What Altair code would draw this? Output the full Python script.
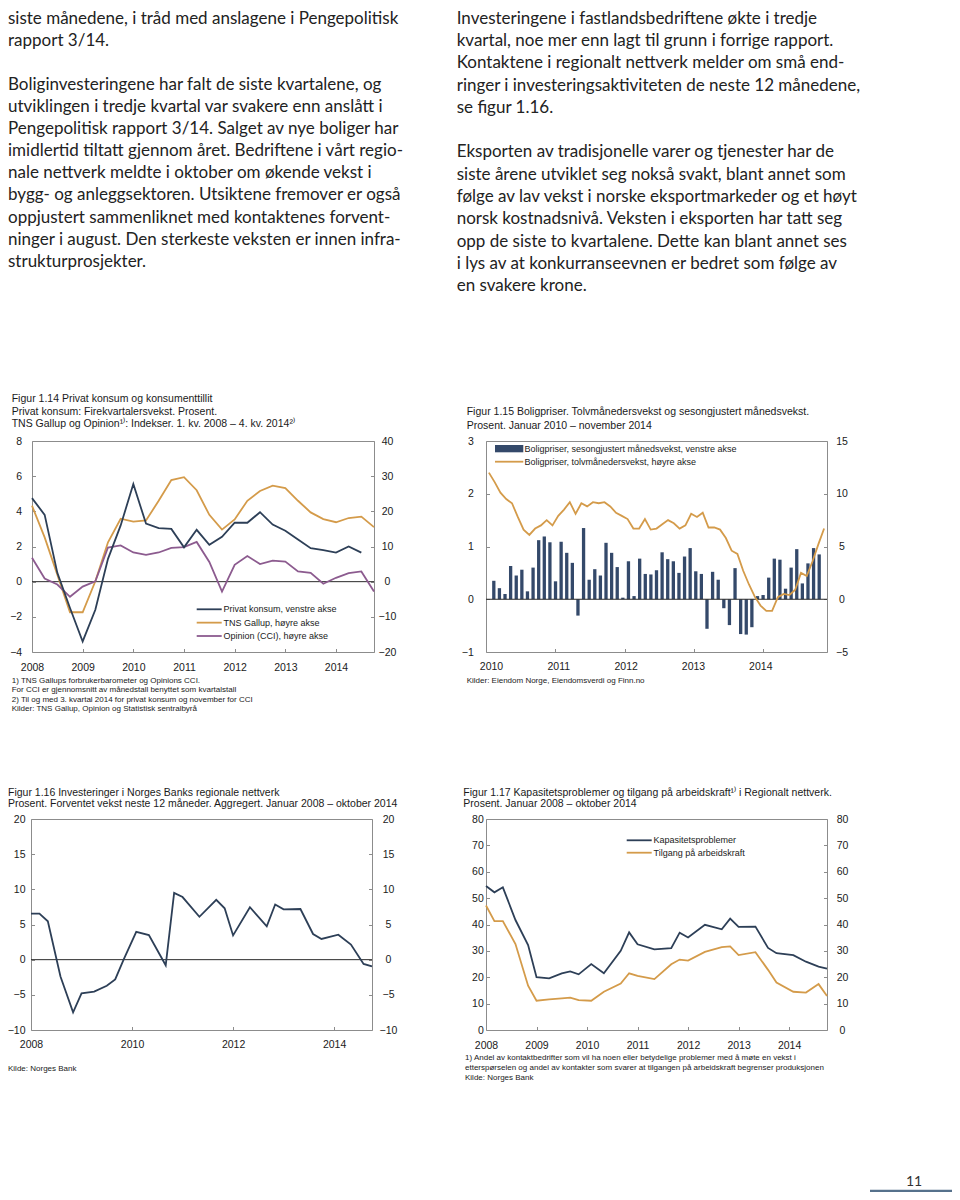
import altair as alt
import pandas as pd

# ======================= DATA =======================
left_text = [
    "siste månedene, i tråd med anslagene i Pengepolitisk",
    "rapport 3/14.",
    "",
    "Boliginvesteringene har falt de siste kvartalene, og",
    "utviklingen i tredje kvartal var svakere enn anslått i",
    "Pengepolitisk rapport 3/14. Salget av nye boliger har",
    "imidlertid tiltatt gjennom året. Bedriftene i vårt regio-",
    "nale nettverk meldte i oktober om økende vekst i",
    "bygg- og anleggsektoren. Utsiktene fremover er også",
    "oppjustert sammenliknet med kontaktenes forvent-",
    "ninger i august. Den sterkeste veksten er innen infra-",
    "strukturprosjekter.",
]
right_text = [
    "Investeringene i fastlandsbedriftene økte i tredje",
    "kvartal, noe mer enn lagt til grunn i forrige rapport.",
    "Kontaktene i regionalt nettverk melder om små end-",
    "ringer i investeringsaktiviteten de neste 12 månedene,",
    "se figur 1.16.",
    "",
    "Eksporten av tradisjonelle varer og tjenester har de",
    "siste årene utviklet seg nokså svakt, blant annet som",
    "følge av lav vekst i norske eksportmarkeder og et høyt",
    "norsk kostnadsnivå. Veksten i eksporten har tatt seg",
    "opp de siste to kvartalene. Dette kan blant annet ses",
    "i lys av at konkurranseevnen er bedret som følge av",
    "en svakere krone.",
]

# Figur 1.14
f114_title = [
    "Figur 1.14 Privat konsum og konsumenttillit",
    "Privat konsum: Firekvartalersvekst. Prosent.",
    "TNS Gallup og Opinion¹⁾: Indekser. 1. kv. 2008 – 4. kv. 2014²⁾",
]
f114_notes = [
    "1) TNS Gallups forbrukerbarometer og Opinions CCI.",
    "For CCI er gjennomsnitt av månedstall benyttet som kvartalstall",
    "2) Til og med 3. kvartal 2014 for privat konsum og november for CCI",
    "Kilder: TNS Gallup, Opinion og Statistisk sentralbyrå",
]
f114_series = ["Privat konsum, venstre akse", "TNS Gallup, høyre akse", "Opinion (CCI), høyre akse"]
f114_quarters = [(y, q) for y in range(2008, 2015) for q in range(1, 5)]
f114_privat = [4.75, 3.8, 0.5, -1.5, -3.4, -1.6, 1.3, 3.2, 5.55, 3.3, 3.05, 3.0, 1.95, 2.95,
               2.1, 2.55, 3.35, 3.35, 3.95, 3.25, 2.9, 2.4, 1.9, 1.8, 1.65, 2.0, 1.65]
f114_tns = [21.6, 12.6, 2.0, -8.7, -8.7, 0.1, 11.2, 17.9, 17.1, 17.4, 23.0, 28.9, 29.7, 26.0,
            19.0, 14.8, 17.7, 23.0, 25.8, 27.3, 26.6, 23.0, 19.7, 17.8, 16.9, 18.1, 18.5, 15.5]
f114_cci = [6.8, 0.9, -0.8, -4.3, -1.4, 0.1, 9.7, 10.3, 8.3, 7.6, 8.3, 9.6, 9.8, 11.3,
            5.6, -2.8, 4.8, 7.3, 5.0, 6.0, 5.7, 2.9, 2.5, -0.6, 1.1, 2.4, 2.9, -2.8]
f114_left_ticks = [-4, -2, 0, 2, 4, 6, 8]
f114_right_ticks = [-20, -10, 0, 10, 20, 30, 40]
f114_years = [2008, 2009, 2010, 2011, 2012, 2013, 2014]

# Figur 1.15
f115_title = [
    "Figur 1.15 Boligpriser. Tolvmånedersvekst og sesongjustert månedsvekst.",
    "Prosent. Januar 2010 – november 2014",
]
f115_series = ["Boligpriser, sesongjustert månedsvekst, venstre akse",
               "Boligpriser, tolvmånedersvekst, høyre akse"]
f115_source = ["Kilder: Eiendom Norge, Eiendomsverdi og Finn.no"]
f115_months = [(y, m) for y in range(2010, 2015) for m in range(1, 13)][:59]
f115_monthly = [0.35, 0.21, 0.10, 0.63, 0.45, 0.56, 0.15, 0.60, 1.12, 1.19,
                1.08, 0.34, 1.09, 0.88, 0.69, -0.31, 1.35, 0.37, 0.57, 0.45,
                1.07, 0.88, 0.61, 0.03, 0.72, 0.06, 0.77, 0.48, 0.47, 0.55,
                0.89, 0.76, 0.72, 0.50, 0.81, 0.97, 0.53, 0.48, -0.56, 0.52,
                0.37, -0.17, -0.49, 0.59, -0.66, -0.67, -0.53, 0.06, 0.08, 0.41,
                0.77, 0.75, 0.20, 0.60, 0.95, 0.30, 0.68, 0.97, 0.85]
f115_twelve = [12.0, 11.1, 10.1, 9.5, 9.1, 7.8, 6.6, 6.1, 6.7, 7.0,
               7.5, 7.0, 7.9, 8.5, 9.2, 8.1, 9.1, 8.8, 9.2, 9.1,
               9.2, 8.8, 8.2, 7.9, 7.6, 6.7, 6.7, 7.6, 6.6, 6.7,
               7.1, 7.5, 7.2, 6.7, 7.0, 8.1, 7.8, 8.2, 6.8, 6.8,
               6.6, 5.8, 4.6, 4.3, 2.7, 1.4, 0.25, -0.6, -1.1, -1.1,
               0.2, 0.5, 0.4, 0.9, 2.5, 2.2, 3.6, 5.2, 6.7]
f115_left_ticks = [-1, 0, 1, 2, 3]
f115_right_ticks = [-5, 0, 5, 10, 15]
f115_years = [2010, 2011, 2012, 2013, 2014]

# Regional network survey rounds (Figur 1.16 and 1.17)
rounds = ["2008-01", "2008-03", "2008-05", "2008-08", "2008-11", "2009-01", "2009-04",
          "2009-07", "2009-09", "2009-11", "2010-02", "2010-05", "2010-09", "2010-11",
          "2011-01", "2011-05", "2011-09", "2011-11", "2012-01", "2012-05", "2012-09",
          "2012-11", "2013-01", "2013-05", "2013-08", "2013-10", "2014-02", "2014-05",
          "2014-08", "2014-10"]

# Figur 1.16
f116_title = [
    "Figur 1.16 Investeringer i Norges Banks regionale nettverk",
    "Prosent. Forventet vekst neste 12 måneder. Aggregert. Januar 2008 – oktober 2014",
]
f116_source = ["Kilde: Norges Bank"]
f116_invest = [6.55, 6.55, 5.45, -2.4, -7.5, -4.8, -4.55, -3.7, -2.8, 0.0,
               3.95, 3.5, -0.8, 9.5, 8.9, 6.1, 8.5, 7.3, 3.45, 7.45,
               4.75, 7.85, 7.15, 7.2, 3.65, 2.95, 3.55, 2.15, -0.6, -0.95]
f116_ticks = [-10, -5, 0, 5, 10, 15, 20]
f116_years = [2008, 2010, 2012, 2014]

# Figur 1.17
f117_title = [
    "Figur 1.17 Kapasitetsproblemer og tilgang på arbeidskraft¹⁾ i Regionalt nettverk.",
    "Prosent. Januar 2008 – oktober 2014",
]
f117_notes = [
    "1) Andel av kontaktbedrifter som vil ha noen eller betydelige problemer med å møte en vekst i",
    "etterspørselen og andel av kontakter som svarer at tilgangen på arbeidskraft begrenser produksjonen",
    "Kilde: Norges Bank",
]
f117_series = ["Kapasitetsproblemer", "Tilgang på arbeidskraft"]
f117_kapasitet = [54.6, 52.2, 54.1, 41.7, 32.2, 20.0, 19.6, 21.5, 22.2, 21.1,
                  25.0, 21.5, 30.0, 37.0, 32.5, 30.6, 31.0, 36.9, 35.1, 39.9,
                  38.2, 42.2, 39.1, 39.2, 31.1, 29.1, 28.4, 25.9, 24.0, 23.3]
f117_tilgang = [47.2, 41.3, 41.3, 32.6, 16.8, 11.1, 11.6, 12.0, 12.3, 11.3,
                11.1, 14.5, 17.6, 21.5, 20.5, 19.3, 24.9, 26.7, 26.3, 29.6,
                31.4, 31.7, 28.4, 29.5, 22.8, 18.0, 14.5, 14.2, 17.4, 12.9]
f117_ticks = [0, 10, 20, 30, 40, 50, 60, 70, 80]
f117_years = [2008, 2009, 2010, 2011, 2012, 2013, 2014]

page_number = ["11"]

# ======================= STYLE / LAYOUT =======================
W, H = 944, 1184
OFF = 8
CF = "Liberation Sans"
PF = "Lato"
TXT = "#1a1a1a"
FRAME = "#8c8c8c"
ZERO = "#2a2a2a"
NAVY = "#2d3f57"
BARC = "#34496a"
ORANGE = "#d49b4a"
PURPLE = "#8c5b8f"
LW = 1.8


def v(p):
    return p - OFF


def xs(dom, L, R):
    return alt.Scale(domain=dom, range=[v(L), v(R)], nice=False, zero=False)


def ys(dom, B, T):
    return alt.Scale(domain=dom, range=[v(B), v(T)], nice=False, zero=False)


def _off(orient, pos):
    p = v(pos)
    return {"bottom": p - H, "top": -p, "left": -p, "right": p - W}[orient]


def ax_lab(orient, pos, values, pad, align=None):
    kw = dict(orient=orient, offset=_off(orient, pos), values=values, format="d", title=None,
              grid=False, ticks=False, tickSize=0, domain=True, domainColor=FRAME, domainWidth=1,
              labels=True, labelFont=CF, labelFontSize=10.5, labelColor=TXT, labelPadding=pad,
              labelFlush=False, labelOverlap=False)
    if align:
        kw["labelAlign"] = align
    return alt.Axis(**kw)


def ax_dom(orient, pos):
    return alt.Axis(orient=orient, offset=_off(orient, pos), title=None, grid=False,
                    ticks=False, labels=False, domain=True, domainColor=FRAME, domainWidth=1)


def ax_tick(orient, pos, values):
    return alt.Axis(orient=orient, offset=_off(orient, pos), values=values, title=None,
                    grid=False, ticks=True, tickSize=3.5, tickColor=FRAME, tickWidth=1,
                    labels=False, domain=False)


def zero_df(a, b, y=0):
    return pd.DataFrame({"x0": [a], "x1": [b], "y": [y]})


def tblock(lines, x, y0, lh, size, font=CF, color=TXT, align="left"):
    df = pd.DataFrame({"t": lines, "py": [v(y0 + i * lh) for i in range(len(lines))]})
    return alt.Chart(df).mark_text(align=align, baseline="middle", font=font,
                                   fontSize=size, color=color).encode(
        x=alt.value(v(x)), y=alt.Y("py:Q", scale=None, axis=None), text="t:N")


def lg_line(x0, x1, y, color, w=LW):
    return alt.Chart(pd.DataFrame({"k": [0]})).mark_rule(color=color, strokeWidth=w).encode(
        x=alt.value(v(x0)), x2=alt.value(v(x1)), y=alt.value(v(y)))


def ym_start(s):
    y, m = s.split("-")
    return int(y) + (int(m) - 1) / 12


layers = []

# ---------------- Figur 1.14 ----------------
L1, R1, T1, B1 = 32, 374, 441, 652
xd1 = [2008, 2014.75]
x1 = xs(xd1, L1, R1)
yl1 = ys([-4, 8], B1, T1)
yr1 = ys([-20, 40], B1, T1)
tq = [y + (q - 1) / 4 for y, q in f114_quarters]
d_priv = pd.DataFrame({"t": tq[:len(f114_privat)], "v": f114_privat})
d_tns = pd.DataFrame({"t": tq[:len(f114_tns)], "v": f114_tns})
d_cci = pd.DataFrame({"t": tq[:len(f114_cci)], "v": f114_cci})

layers += [
    alt.Chart(zero_df(*xd1)).mark_rule(color=ZERO, strokeWidth=1).encode(
        x=alt.X("x0:Q", scale=x1, axis=None), x2="x1:Q",
        y=alt.Y("y:Q", scale=yl1, axis=ax_tick("left", R1, f114_left_ticks))),
    alt.Chart(d_tns).mark_line(color=ORANGE, strokeWidth=LW).encode(
        x=alt.X("t:Q", scale=x1, axis=ax_dom("top", T1)),
        y=alt.Y("v:Q", scale=yr1, axis=ax_lab("right", R1, f114_right_ticks, 13, "center"))),
    alt.Chart(d_cci).mark_line(color=PURPLE, strokeWidth=LW).encode(
        x=alt.X("t:Q", scale=x1, axis=ax_tick("top", B1, f114_years[1:])),
        y=alt.Y("v:Q", scale=yr1, axis=ax_tick("right", L1, f114_right_ticks))),
    alt.Chart(d_priv).mark_line(color=NAVY, strokeWidth=LW).encode(
        x=alt.X("t:Q", scale=x1, axis=ax_lab("bottom", B1, f114_years, 10)),
        y=alt.Y("v:Q", scale=yl1, axis=ax_lab("left", L1, f114_left_ticks, 10.3, "right"))),
]
layers += [tblock(f114_title, 11.7, 399, 12.5, 10.5)]
layers += [lg_line(196.7, 221.7, 609.3 + i * 13.35, c) for i, c in enumerate([NAVY, ORANGE, PURPLE])]
layers += [tblock(f114_series, 223.5, 609.3, 13.35, 9)]
layers += [tblock(f114_notes, 11.7, 680.7, 9.55, 8)]

# ---------------- Figur 1.15 ----------------
L2, R2, T2, B2 = 486, 827, 441, 652
xd2 = [2010, 2010 + 59 / 12]
x2 = xs(xd2, L2, R2)
yl2 = ys([-1, 3], B2, T2)
yr2 = ys([-5, 15], B2, T2)
tm = [y + (m - 0.5) / 12 for y, m in f115_months]
d_bar = pd.DataFrame({"t": tm, "v": f115_monthly})
d_12 = pd.DataFrame({"t": tm, "v": f115_twelve})

layers += [
    alt.Chart(d_bar).mark_bar(color=BARC, size=3.3).encode(
        x=alt.X("t:Q", scale=x2, axis=ax_lab("bottom", B2, f115_years, 9.2)),
        y=alt.Y("v:Q", scale=yl2, axis=ax_lab("left", L2, f115_left_ticks, 12.7, "right")),
        y2=alt.datum(0)),
    alt.Chart(zero_df(*xd2)).mark_rule(color=ZERO, strokeWidth=1).encode(
        x=alt.X("x0:Q", scale=x2, axis=ax_dom("top", T2)), x2="x1:Q",
        y=alt.Y("y:Q", scale=yl2, axis=ax_tick("left", R2, f115_left_ticks))),
    alt.Chart(zero_df(*xd2)).mark_rule(opacity=0).encode(
        x=alt.X("x0:Q", scale=x2, axis=None), x2="x1:Q",
        y=alt.Y("y:Q", scale=yl2, axis=ax_tick("right", L2, f115_left_ticks))),
    alt.Chart(d_12).mark_line(color=ORANGE, strokeWidth=LW).encode(
        x=alt.X("t:Q", scale=x2, axis=ax_tick("top", B2, f115_years[1:])),
        y=alt.Y("v:Q", scale=yr2, axis=ax_lab("right", R2, f115_right_ticks, 14.5, "center"))),
]
layers += [tblock(f115_title, 466.7, 412.3, 13.4, 10.5)]
layers += [alt.Chart(pd.DataFrame({"k": [0]})).mark_rect(color=BARC).encode(
    x=alt.value(v(495)), x2=alt.value(v(523.3)), y=alt.value(v(445)), y2=alt.value(v(452.3)))]
layers += [lg_line(495, 523.3, 461.7, ORANGE)]
layers += [tblock(f115_series, 524.5, 448.5, 13.2, 9)]
layers += [tblock(f115_source, 466.7, 680.7, 10, 8)]

# ---------------- Figur 1.16 ----------------
L3, R3, T3, B3 = 31, 372, 819, 1030
xd3 = [2008, 2014.75]
x3 = xs(xd3, L3, R3)
y3 = ys([-10, 20], B3, T3)
tr = [ym_start(s) for s in rounds]
d_inv = pd.DataFrame({"t": tr, "v": f116_invest})

layers += [
    alt.Chart(zero_df(*xd3)).mark_rule(color=ZERO, strokeWidth=1).encode(
        x=alt.X("x0:Q", scale=x3, axis=ax_dom("top", T3)), x2="x1:Q",
        y=alt.Y("y:Q", scale=y3, axis=ax_lab("right", R3, f116_ticks, 16, "center"))),
    alt.Chart(zero_df(*xd3)).mark_rule(opacity=0).encode(
        x=alt.X("x0:Q", scale=x3, axis=ax_tick("top", B3, f116_years[1:])), x2="x1:Q",
        y=alt.Y("y:Q", scale=y3, axis=ax_tick("right", L3, f116_ticks))),
    alt.Chart(zero_df(*xd3)).mark_rule(opacity=0).encode(
        x=alt.X("x0:Q", scale=x3, axis=None), x2="x1:Q",
        y=alt.Y("y:Q", scale=y3, axis=ax_tick("left", R3, f116_ticks))),
    alt.Chart(d_inv).mark_line(color=NAVY, strokeWidth=LW).encode(
        x=alt.X("t:Q", scale=x3, axis=ax_lab("bottom", B3, f116_years, 9.8)),
        y=alt.Y("v:Q", scale=y3, axis=ax_lab("left", L3, f116_ticks, 6, "right"))),
]
layers += [tblock(f116_title, 8, 792.7, 11.6, 10.5)]
layers += [tblock(f116_source, 8, 1069, 10, 8)]

# ---------------- Figur 1.17 ----------------
L4, R4, T4, B4 = 486, 827, 819, 1030
xd4 = [2008, 2014.75]
x4 = xs(xd4, L4, R4)
y4 = ys([0, 80], B4, T4)
d_kap = pd.DataFrame({"t": tr, "v": f117_kapasitet})
d_til = pd.DataFrame({"t": tr, "v": f117_tilgang})

layers += [
    alt.Chart(zero_df(*xd4)).mark_rule(opacity=0).encode(
        x=alt.X("x0:Q", scale=x4, axis=ax_tick("top", B4, f117_years[1:])), x2="x1:Q",
        y=alt.Y("y:Q", scale=y4, axis=ax_tick("right", L4, f117_ticks))),
    alt.Chart(zero_df(*xd4)).mark_rule(opacity=0).encode(
        x=alt.X("x0:Q", scale=x4, axis=None), x2="x1:Q",
        y=alt.Y("y:Q", scale=y4, axis=ax_tick("left", R4, f117_ticks))),
    alt.Chart(d_til).mark_line(color=ORANGE, strokeWidth=LW).encode(
        x=alt.X("t:Q", scale=x4, axis=ax_dom("top", T4)),
        y=alt.Y("v:Q", scale=y4, axis=ax_lab("right", R4, f117_ticks, 15, "center"))),
    alt.Chart(d_kap).mark_line(color=NAVY, strokeWidth=LW).encode(
        x=alt.X("t:Q", scale=x4, axis=ax_lab("bottom", B4, f117_years, 10.5)),
        y=alt.Y("v:Q", scale=y4, axis=ax_lab("left", L4, f117_ticks, 2.7, "right"))),
]
layers += [tblock(f117_title, 463.3, 792.7, 11.5, 10.5)]
layers += [lg_line(626.7, 651.7, 840.3 + i * 12.4, c) for i, c in enumerate([NAVY, ORANGE])]
layers += [tblock(f117_series, 653.5, 840.3, 12.4, 9)]
layers += [tblock(f117_notes, 465, 1058.3, 10, 8)]

# ---------------- Body text & footer ----------------
layers += [tblock(left_text, 8, 18.6, 22.1, 17, font=PF, color="#222222")]
layers += [tblock(right_text, 456.7, 18.6, 22.3, 17, font=PF, color="#222222")]
layers += [tblock(page_number, 914, 1182, 14, 14, font=PF, color="#333333", align="center")]
layers += [lg_line(870, 952, 1191, "#56718c", 2.5)]

chart = alt.layer(*layers).resolve_scale(x="independent", y="independent").properties(
    width=W, height=H, padding=0, autosize=alt.AutoSizeParams(type="none")
).configure_view(stroke=None)

chart.save("out.html", embed_options={"renderer": "svg", "actions": False})
